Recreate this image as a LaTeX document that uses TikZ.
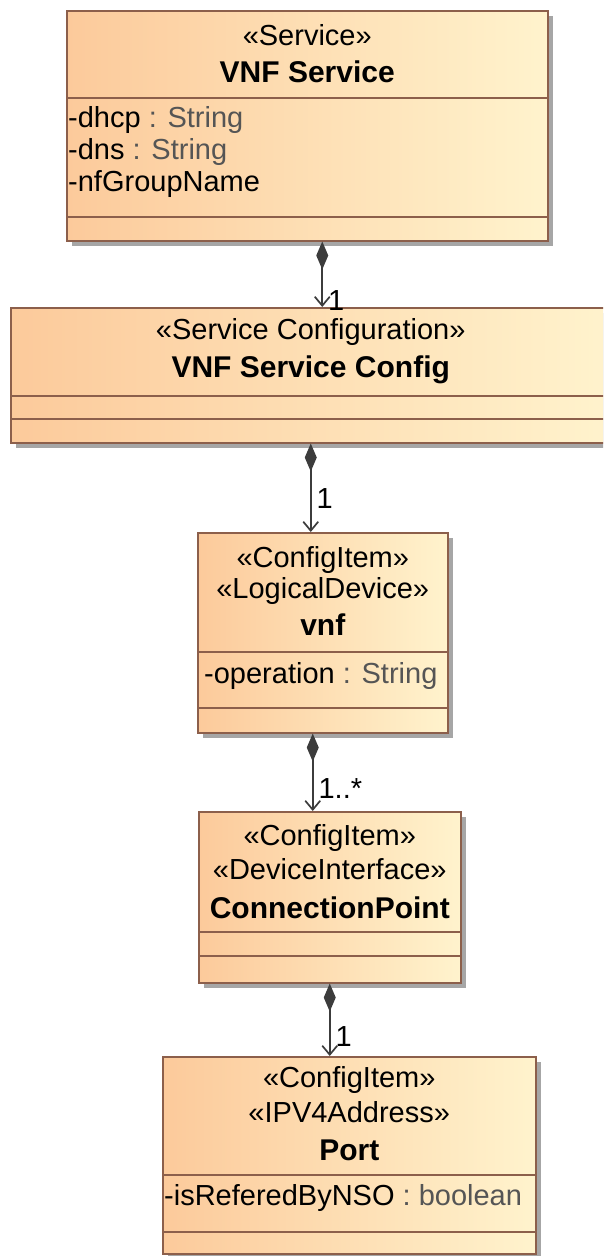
\documentclass[tikz,border=0pt]{standalone}
\usepackage{fontspec}
\setmainfont{Liberation Sans}
\usetikzlibrary{arrows.meta,shadows}
\definecolor{boxleft}{RGB}{252,202,155}
\definecolor{boxright}{RGB}{255,243,205}
\definecolor{boxline}{RGB}{140,95,75}
\definecolor{linkgray}{RGB}{60,60,60}
\definecolor{typegray}{RGB}{85,85,85}
\tikzset{
  classbox/.style={draw=boxline, line width=1.5pt, left color=boxleft, right color=boxright,
    anchor=north west, inner sep=0pt,
    drop shadow={shadow xshift=5pt, shadow yshift=-5pt, fill=black!35, opacity=1}},
  divider/.style={draw=boxline, line width=1.5pt},
  stereo/.style={inner sep=0pt, font=\fontsize{29}{33}\selectfont},
  cname/.style={inner sep=0pt, font=\fontsize{30}{34}\selectfont\bfseries},
  attr/.style={inner sep=0pt, anchor=west, font=\fontsize{29}{33}\selectfont},
  compose/.style={draw=linkgray, line width=1.7pt,
    {Diamond[length=28pt,width=12pt,fill=linkgray]}-{Straight Barb[length=9pt,width=15pt]}},
  mult/.style={inner sep=0pt, anchor=west, xshift=5pt, font=\fontsize{29}{33}\selectfont}
}
\newcommand{\ty}[1]{\textcolor{typegray}{#1}}
\begin{document}
\begin{tikzpicture}[x=1pt,y=-1pt]
\clip (0,0) rectangle (603,1256);

% Classes
\node[classbox, minimum width=481pt, minimum height=230pt] (service) at (66,10) {};
\node[classbox, minimum width=600pt, minimum height=135pt] (config) at (10,307) {};
\node[classbox, minimum width=250pt, minimum height=200pt] (vnf) at (197,532) {};
\node[classbox, minimum width=262pt, minimum height=171pt] (cpoint) at (198,811) {};
\node[classbox, minimum width=373pt, minimum height=197pt] (port) at (162,1056) {};

% Compartments
\draw[divider] (service.west |- 0,98) -- (service.east |- 0,98);
\draw[divider] (service.west |- 0,217) -- (service.east |- 0,217);
\draw[divider] (config.west |- 0,396) -- (config.east |- 0,396);
\draw[divider] (config.west |- 0,419) -- (config.east |- 0,419);
\draw[divider] (vnf.west |- 0,652) -- (vnf.east |- 0,652);
\draw[divider] (vnf.west |- 0,708) -- (vnf.east |- 0,708);
\draw[divider] (cpoint.west |- 0,932) -- (cpoint.east |- 0,932);
\draw[divider] (cpoint.west |- 0,956) -- (cpoint.east |- 0,956);
\draw[divider] (port.west |- 0,1175) -- (port.east |- 0,1175);
\draw[divider] (port.west |- 0,1232) -- (port.east |- 0,1232);

% Names
\node[stereo] (serviceSt) at (service.north |- 0,35) {«Service»};
\node[cname] (serviceNm) at (service.north |- 0,72) {VNF Service};
\node[stereo] (configSt) at (config.north |- 0,332) {«Service Configuration»};
\node[cname] (configNm) at (config.north |- 0,370) {VNF Service Config};
\node[stereo] (vnfSt1) at (vnf.north |- 0,560) {«ConfigItem»};
\node[stereo] (vnfSt2) at (vnf.north |- 0,591) {«LogicalDevice»};
\node[cname] (vnfNm) at (vnf.north |- 0,625) {vnf};
\node[stereo] (cpointSt1) at (cpoint.north |- 0,838) {«ConfigItem»};
\node[stereo] (cpointSt2) at (cpoint.north |- 0,869) {«DeviceInterface»};
\node[cname] (cpointNm) at (cpoint.north |- 0,908) {ConnectionPoint};
\node[stereo] (portSt1) at (port.north |- 0,1080) {«ConfigItem»};
\node[stereo] (portSt2) at (port.north |- 0,1112) {«IPV4Address»};
\node[cname] (portNm) at (port.north |- 0,1150) {Port};

% Attributes
\node[attr] (dhcp) at (68,120) {-dhcp \ty{: String}};
\node[attr] (dns) at (68,152) {-dns \ty{: String}};
\node[attr] (group) at (68,184) {-nfGroupName};
\node[attr] (operation) at (204,676) {-operation \ty{: String}};
\node[attr] (refered) at (164,1198) {-isReferedByNSO \ty{: boolean}};

% Compositions
\draw[compose] ([xshift=15pt]service.south) -- ([xshift=15pt]service.south |- config.north)
  node[mult, pos=0.9] (m1) {1};
\draw[compose] ([xshift=-12pt]vnf.north |- config.south) -- ([xshift=-12pt]vnf.north)
  node[mult, pos=0.62] (m2) {1};
\draw[compose] ([xshift=-10pt]vnf.south) -- ([xshift=-10pt]vnf.south |- cpoint.north)
  node[mult, pos=0.71] (m3) {1..*};
\draw[compose] (cpoint.south) -- (cpoint.south |- port.north)
  node[mult, pos=0.73] (m4) {1};
\end{tikzpicture}
\end{document}
